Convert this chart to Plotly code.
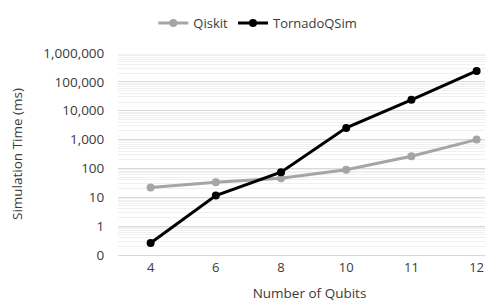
import plotly.graph_objects as go

qubits = ["4", "6", "8", "10", "11", "12"]
qiskit = [22, 33, 46, 90, 265, 1000]
tornado = [0.26, 11.5, 74, 2550, 24000, 240000]

tick_vals = [0.1, 1, 10, 100, 1000, 10000, 100000, 1000000]
tick_text = ["0", "1", "10", "100", "1,000", "10,000", "100,000", "1,000,000"]
minor_vals = [m * d for d in [0.1, 1, 10, 100, 1000, 10000, 100000] for m in range(2, 10)]

FONT = "Open Sans"
TXT = "#3a3a3a"

fig = go.Figure()
fig.add_trace(go.Scatter(
    x=qubits, y=qiskit, name="Qiskit", mode="lines+markers",
    line=dict(color="#A5A5A5", width=3),
    marker=dict(color="#A5A5A5", size=8),
))
fig.add_trace(go.Scatter(
    x=qubits, y=tornado, name="TornadoQSim", mode="lines+markers",
    line=dict(color="#000000", width=3),
    marker=dict(color="#000000", size=8),
))

fig.update_layout(
    width=493, height=304,
    margin=dict(l=110, r=0, t=41, b=57),
    paper_bgcolor="white", plot_bgcolor="white",
    font=dict(family=FONT, size=13, color=TXT),
    showlegend=True,
    legend=dict(orientation="h", x=0.365, xanchor="center", y=1.15, yanchor="middle",
                font=dict(family=FONT, size=13, color=TXT),
                itemwidth=30, tracegroupgap=0, bgcolor="rgba(0,0,0,0)"),
    xaxis=dict(
        type="category", range=[-0.5, 5.374],
        showgrid=False, showline=True, linecolor="#d9d9d9", linewidth=1,
        ticks="", tickfont=dict(family=FONT, size=13, color=TXT),
        title=dict(text="Number of Qubits", font=dict(family=FONT, size=13.5, color=TXT), standoff=13),
    ),
    yaxis=dict(
        type="log", range=[-1, 6.002],
        tickvals=tick_vals, ticktext=tick_text,
        showgrid=True, gridcolor="#d9d9d9", gridwidth=1,
        zeroline=False, showline=False,
        ticks="outside", ticklen=10, tickcolor="rgba(0,0,0,0)",
        tickfont=dict(family=FONT, size=13.5, color=TXT),
        minor=dict(tickvals=minor_vals, showgrid=True, gridcolor="#f0f0f0", gridwidth=1, ticks=""),
        title=dict(text="Simulation Time (ms)", font=dict(family=FONT, size=13.5, color=TXT), standoff=20),
    ),
)

fig.write_html("out.html")
